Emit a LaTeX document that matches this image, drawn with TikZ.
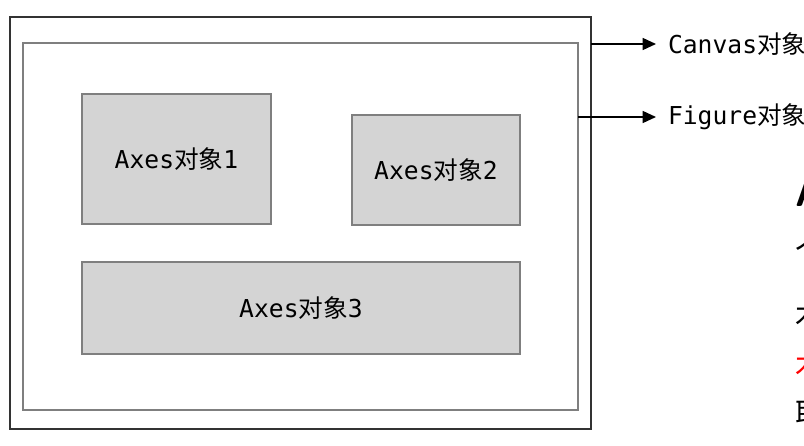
\documentclass[tikz,border=0pt]{standalone}
\usepackage{fontspec}
\setmainfont{DejaVu Sans}
\setmonofont{DejaVu Sans Mono}
\newfontfamily\cjk{Noto Sans CJK SC}
\usetikzlibrary{arrows.meta,fit}
\definecolor{boxfill}{HTML}{D4D4D4}
\definecolor{boxline}{HTML}{7F7F7F}
\definecolor{outerline}{HTML}{333333}
\tikzset{
  every node/.style={inner sep=0pt, outer sep=0pt},
  outerbox/.style={draw=outerline, line width=1.6pt},
  innerbox/.style={draw=boxline, line width=1.6pt},
  axbox/.style={draw=boxline, fill=boxfill, line width=1.1pt},
  axlabel/.style={font=\fontsize{18.5}{20}\selectfont},
  sidelabel/.style={anchor=west, font=\fontsize{18.5}{20}\selectfont},
  arr/.style={line width=1.1pt, -{Triangle[length=10pt,width=9pt]}},
  frag/.style={anchor=west, font=\fontsize{22}{24}\selectfont\cjk}
}
\newcommand{\obj}[1]{{\ttfamily #1}{\cjk 对象}}
\begin{document}
\begin{tikzpicture}[x=0.75pt,y=-0.75pt]
\useasboundingbox (0,0) rectangle (804,446);
\clip (0,0) rectangle (804,446);
\fill[white] (0,0) rectangle (804,446);
% canvas and figure
\node[outerbox, fit={(10,17)(591,429)}] (canvas) {};
\node[innerbox, fit={(23,43)(578,410)}] (figure) {};
% axes
\node[axbox, fit={(82,94)(271,224)}] (ax1) {};
\node[axbox, fit={(352,115)(520,225)}] (ax2) {};
\node[axbox, fit={(82,262)(520,354)}] (ax3) {};
\node[axlabel] (t1) at (ax1.center) {\obj{Axes}{\ttfamily 1}};
\node[axlabel] (t2) at (ax2.center) {\obj{Axes}{\ttfamily 2}};
\node[axlabel] (t3) at (ax3.center) {\obj{Axes}{\ttfamily 3}};
% side labels
\node[sidelabel] (lc) at (668,44) {\obj{Canvas}};
\node[sidelabel] (lf) at (668,117) {\obj{Figure}};
\coordinate (lcend) at (656,44);
\coordinate (lfend) at (656,117);
\draw[arr] (canvas.east |- lcend) -- (lcend);
\draw[arr] (figure.east |- lfend) -- (lfend);
% cut-off text fragments at the right edge
\node[anchor=west, font=\fontsize{30}{32}\selectfont\sffamily\bfseries] (fa) at (795,193) {A};
\node[frag] (fb) at (795,250) {个};
\node[frag] (fc) at (795,314) {木};
\node[frag, text=red] (fd) at (795,364) {木};
\node[frag] (fe) at (795,414) {取};
\end{tikzpicture}
\end{document}
